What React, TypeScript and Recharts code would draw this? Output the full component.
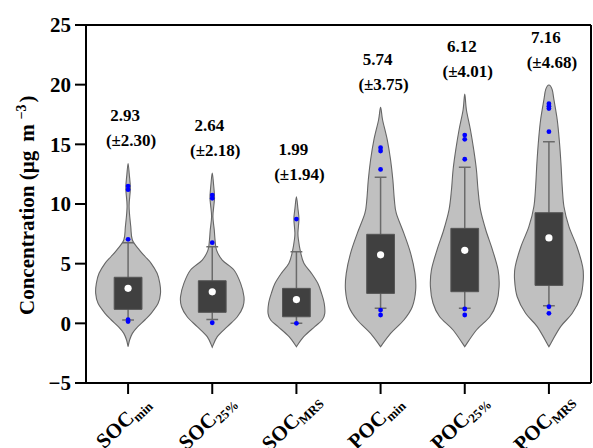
import { ComposedChart, Scatter, XAxis, YAxis } from "recharts"

// categories
const groups = ["SOC", "SOC", "SOC", "POC", "POC", "POC"]
const subscripts = ["min", "25%", "MRS", "min", "25%", "MRS"]

// summary stats
const means = [2.93, 2.64, 1.99, 5.74, 6.12, 7.16]
const sds = [2.3, 2.18, 1.94, 3.75, 4.01, 4.68]
const q1 = [1.17, 0.92, 0.55, 2.51, 2.65, 3.18]
const q3 = [3.86, 3.57, 2.93, 7.46, 7.96, 9.27]
const whiskerLow = [0.28, 0.33, 0.0, 1.26, 1.26, 1.48]
const whiskerHigh = [6.76, 6.42, 6.0, 12.24, 13.07, 15.22]
const outliers = [
  [11.5, 11.2, 7.04, 0.3, 0.15],
  [10.75, 10.48, 6.76, 0.05],
  [8.74, 0.0],
  [14.72, 14.44, 12.9, 1.11, 0.7],
  [15.78, 15.42, 13.75, 1.2, 0.7],
  [18.4, 18.2, 18.0, 16.06, 1.39, 0.84],
]

// violin outlines: levels (concentration) and half widths (fraction of a category)
const violinLevels = [
  [-1.96, -1.4, -0.84, -0.3, 0.3, 0.84, 1.68, 2.51, 3.35, 4.19, 5.03, 5.6, 6.14, 6.98, 8.1, 9.8, 11.3, 12.5, 13.4],
  [-2.0, -1.12, -0.28, 0.55, 1.39, 2.23, 3.35, 4.47, 5.3, 6.14, 7.0, 7.82, 8.94, 10.0, 10.6, 11.7, 12.6],
  [-1.96, -1.12, -0.28, 0.28, 0.84, 1.68, 2.51, 3.35, 4.19, 5.03, 6.0, 7.0, 7.6, 8.74, 9.6, 10.6],
  [-1.96, -0.84, 0.28, 1.39, 2.79, 4.19, 5.87, 7.54, 9.22, 10.34, 12.01, 13.69, 15.36, 17.04, 18.1],
  [-1.96, -0.56, 0.55, 1.68, 3.07, 4.47, 6.14, 7.82, 9.5, 11.17, 12.85, 14.53, 16.2, 17.88, 19.22],
  [-1.96, -0.28, 0.84, 2.23, 3.63, 4.74, 6.42, 8.1, 9.77, 11.45, 13.41, 15.36, 17.04, 18.72, 19.6, 19.97],
]
const violinHalfWidths = [
  [0, 0.018, 0.051, 0.113, 0.202, 0.274, 0.357, 0.385, 0.377, 0.345, 0.274, 0.202, 0.135, 0.051, 0.032, 0.012, 0.027, 0.014, 0],
  [0, 0.06, 0.179, 0.298, 0.365, 0.377, 0.337, 0.258, 0.119, 0.051, 0.033, 0.024, 0.008, 0.021, 0.027, 0.015, 0],
  [0, 0.087, 0.218, 0.306, 0.337, 0.33, 0.298, 0.254, 0.179, 0.089, 0.048, 0.024, 0.018, 0.03, 0.018, 0],
  [0, 0.119, 0.277, 0.377, 0.417, 0.408, 0.357, 0.277, 0.187, 0.164, 0.146, 0.119, 0.08, 0.024, 0],
  [0, 0.139, 0.298, 0.377, 0.408, 0.396, 0.33, 0.25, 0.187, 0.158, 0.139, 0.107, 0.068, 0.02, 0],
  [0, 0.139, 0.277, 0.377, 0.408, 0.401, 0.333, 0.238, 0.179, 0.158, 0.143, 0.123, 0.099, 0.06, 0.038, 0],
]

const yTicks = [-5, 0, 5, 10, 15, 20, 25]
const xTicks = [0, 1, 2, 3, 4, 5]

const SERIF = "'Liberation Serif', 'Times New Roman', serif"
const BOX_HALF = 0.165
const CAP_HALF = 0.07

const violinOutline = (i: number) => {
  const lv = violinLevels[i]
  const hw = violinHalfWidths[i]
  const left = lv.map((y, k) => ({ x: i - hw[k], y }))
  const right = lv.slice(0, -1).map((y, k) => ({ x: i + hw[k], y })).reverse()
  return [...left, ...right]
}

const boxOutline = (i: number) => [
  { x: i - BOX_HALF, y: q1[i] },
  { x: i + BOX_HALF, y: q1[i] },
  { x: i + BOX_HALF, y: q3[i] },
  { x: i - BOX_HALF, y: q3[i] },
  { x: i - BOX_HALF, y: q1[i] },
]

const whiskerPath = (i: number) => [
  { x: i - CAP_HALF, y: whiskerHigh[i] },
  { x: i + CAP_HALF, y: whiskerHigh[i] },
  { x: i, y: whiskerHigh[i] },
  { x: i, y: whiskerLow[i] },
  { x: i - CAP_HALF, y: whiskerLow[i] },
  { x: i + CAP_HALF, y: whiskerLow[i] },
]

const meanPoints = means.map((y, i) => ({ x: i, y }))
const outlierPoints = outliers.flatMap((list, i) => list.map((y) => ({ x: i, y })))
const topPoints = violinLevels.map((lv, i) => ({ x: i, y: lv[lv.length - 1], i }))

// catmull-rom through the outline points
function smoothPath(pts: { x: number; y: number }[]) {
  const n = pts.length
  let d = `M${pts[0].x},${pts[0].y}`
  for (let k = 0; k < n - 1; k++) {
    const p0 = pts[Math.max(k - 1, 0)]
    const p1 = pts[k]
    const p2 = pts[k + 1]
    const p3 = pts[Math.min(k + 2, n - 1)]
    const c1x = p1.x + (p2.x - p0.x) / 6
    const c1y = p1.y + (p2.y - p0.y) / 6
    const c2x = p2.x - (p3.x - p1.x) / 6
    const c2y = p2.y - (p3.y - p1.y) / 6
    d += ` C${c1x},${c1y} ${c2x},${c2y} ${p2.x},${p2.y}`
  }
  return d + " Z"
}

const NoDot = () => <g />

function CategoryTick(props: any) {
  const { x, y, payload } = props
  const i = payload.value
  return (
    <g transform={`translate(${x - 0.5}, ${y + 31}) rotate(-44)`}>
      <text x={0} y={0} textAnchor="middle" fontFamily={SERIF} fontWeight="bold" fill="#000">
        <tspan fontSize={21}>{groups[i]}</tspan>
        <tspan fontSize={13} dy={4}>{subscripts[i]}</tspan>
      </text>
    </g>
  )
}

function YTitle(props: any) {
  const vb = props.viewBox || { x: 0, y: 25, width: 86, height: 358 }
  const bx = vb.x + 33.5
  const by = vb.y + 290
  return (
    <text
      x={bx}
      y={by}
      transform={`rotate(-90, ${bx}, ${by})`}
      fontFamily={SERIF}
      fontWeight="bold"
      fontSize={21}
      fill="#000"
    >
      <tspan>Concentration (μg</tspan>
      <tspan dx={9}>m</tspan>
      <tspan dx={5} dy={-8} fontSize={14}>−3</tspan>
      <tspan dx={2} dy={8}>)</tspan>
    </text>
  )
}

function Annotation(props: any) {
  const { cx, cy, payload } = props
  const i = payload.i
  return (
    <g fontFamily={SERIF} fontWeight="bold" fontSize={17} fill="#000">
      <text x={cx - 3} y={cy - 42} textAnchor="middle">
        {means[i].toFixed(2)}
      </text>
      <text x={cx + 3} y={cy - 17} textAnchor="middle">
        {`(±${sds[i].toFixed(2)})`}
      </text>
    </g>
  )
}

const axisStyle = { stroke: "#000", strokeWidth: 2 }

export default function App() {
  return (
    <div style={{ position: "absolute", left: 0, top: 0, background: "#fff" }}>
      <ComposedChart width={593} height={448} margin={{ top: 0, right: 2, bottom: 0, left: 0 }}>
        <XAxis
          xAxisId="b"
          dataKey="x"
          type="number"
          domain={[-0.5, 5.5]}
          ticks={xTicks}
          interval={0}
          height={65}
          tickSize={11}
          axisLine={axisStyle}
          tickLine={axisStyle}
          tick={<CategoryTick />}
        />
        <XAxis
          xAxisId="t"
          orientation="top"
          type="number"
          domain={[-0.5, 5.5]}
          ticks={xTicks}
          interval={0}
          height={25}
          tickSize={10}
          axisLine={axisStyle}
          tickLine={axisStyle}
          tick={NoDot}
        />
        <YAxis
          yAxisId="l"
          dataKey="y"
          type="number"
          domain={[-5, 25]}
          ticks={yTicks}
          interval={0}
          width={86}
          tickSize={11}
          tickMargin={4}
          axisLine={axisStyle}
          tickLine={axisStyle}
          tickFormatter={(v: number) => (v < 0 ? `−${Math.abs(v)}` : `${v}`)}
          tick={{ fill: "#000", fontSize: 21, fontWeight: "bold", fontFamily: SERIF }}
          label={<YTitle />}
        />
        <YAxis
          yAxisId="r"
          orientation="right"
          type="number"
          domain={[-5, 25]}
          ticks={yTicks}
          interval={0}
          width={1}
          mirror
          tickSize={10}
          axisLine={axisStyle}
          tickLine={axisStyle}
          tick={NoDot}
        />

        {groups.map((_, i) => (
          <Scatter
            key={`violin-${i}`}
            xAxisId="b"
            yAxisId="l"
            data={violinOutline(i)}
            shape={NoDot}
            line={(p: any) => (
              <path d={smoothPath(p.points)} fill="#c0c0c0" stroke="#666666" strokeWidth={1.1} />
            )}
            isAnimationActive={false}
          />
        ))}
        {groups.map((_, i) => (
          <Scatter
            key={`whisker-${i}`}
            xAxisId="b"
            yAxisId="l"
            data={whiskerPath(i)}
            shape={NoDot}
            line={{ stroke: "#6a6a6a", strokeWidth: 1.5, fill: "none" }}
            lineJointType="linear"
            isAnimationActive={false}
          />
        ))}
        {groups.map((_, i) => (
          <Scatter
            key={`box-${i}`}
            xAxisId="b"
            yAxisId="l"
            data={boxOutline(i)}
            shape={NoDot}
            line={{ stroke: "#555555", strokeWidth: 1, fill: "#404040" }}
            lineJointType="linear"
            isAnimationActive={false}
          />
        ))}
        <Scatter
          xAxisId="b"
          yAxisId="l"
          data={meanPoints}
          shape={(p: any) => <circle cx={p.cx} cy={p.cy} r={3.6} fill="#ffffff" />}
          isAnimationActive={false}
        />
        <Scatter
          xAxisId="b"
          yAxisId="l"
          data={outlierPoints}
          shape={(p: any) => <circle cx={p.cx} cy={p.cy} r={2.4} fill="#0000ff" />}
          isAnimationActive={false}
        />
        <Scatter
          xAxisId="b"
          yAxisId="l"
          data={topPoints}
          shape={Annotation}
          isAnimationActive={false}
        />
      </ComposedChart>
    </div>
  )
}
